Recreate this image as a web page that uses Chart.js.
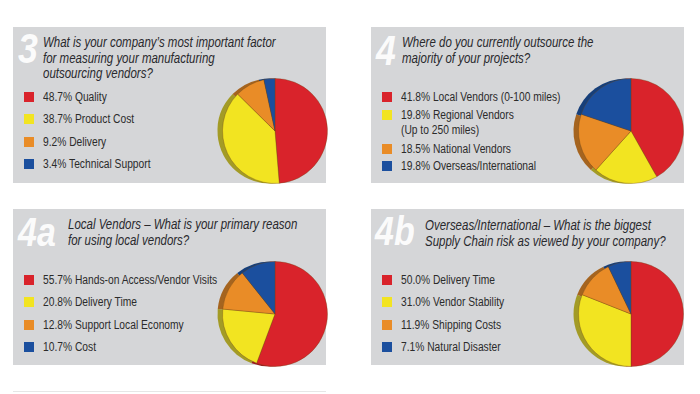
<!DOCTYPE html>
<html>
<head>
<meta charset="utf-8">
<script src="https://cdn.jsdelivr.net/npm/chart.js@4.4.1/dist/chart.umd.min.js"></script>
<style>
    body {
        margin: 0;
        width: 700px;
        height: 394px;
        background: #ffffff;
        position: relative;
        overflow: hidden;
        font-family: "Liberation Sans", Arial, sans-serif;
        color: #333;
    }
    .panel {
        position: absolute;
        background: #d5d6d8;
        width: 313px;
        height: 156px;
    }
    .num {
        position: absolute;
        color: rgba(255, 255, 255, 0.92);
        font-weight: bold;
        font-style: italic;
        line-height: 1;
        transform: scaleX(0.85);
        transform-origin: left top;
    }
    .title {
        position: absolute;
        font-style: italic;
        font-size: 14px;
        line-height: 15.5px;
        color: #29292d;
        white-space: nowrap;
        transform: scaleX(0.82);
        transform-origin: left top;
    }
    .legend {
        position: absolute;
        font-size: 12.5px;
        color: #2b2b2b;
    }
    .legend .item {
        position: absolute;
        white-space: nowrap;
        line-height: 15px;
    }
    .legend .txt {
        display: inline-block;
        transform: scaleX(0.82);
        transform-origin: left top;
    }
    .legend .sw {
        position: absolute;
        left: -19px;
        top: 2px;
        width: 10px;
        height: 10px;
    }
    canvas.pie {
        position: absolute;
    }
    .rule {
        position: absolute;
        left: 13px;
        top: 391px;
        width: 313px;
        height: 1px;
        background: #e6e6e6;
    }
</style>
</head>
<body>
<div class="rule"></div>

<script>
// Survey data
const q3Labels = ['Quality', 'Product Cost', 'Delivery', 'Technical Support'];
const q3Values = [48.7, 38.7, 9.2, 3.4];

const q4Labels = ['Local Vendors (0-100 miles)', 'Regional Vendors\n(Up to 250 miles)', 'National Vendors', 'Overseas/International'];
const q4Values = [41.8, 19.8, 18.5, 19.8];

const q4aLabels = ['Hands-on Access/Vendor Visits', 'Delivery Time', 'Support Local Economy', 'Cost'];
const q4aValues = [55.7, 20.8, 12.8, 10.7];

const q4bLabels = ['Delivery Time', 'Vendor Stability', 'Shipping Costs', 'Natural Disaster'];
const q4bValues = [50.0, 31.0, 11.9, 7.1];

const sliceColors = ['#d9232b', '#f2e421', '#e98c27', '#1b4f9e'];
const sideColors = ['#9a1b20', '#a39b26', '#a5641f', '#163f7a'];

// Draw a darker copy of each slice shifted left, gives the tilted disc look
const rimPlugin = {
    id: 'rim',
    beforeDatasetsDraw(chart) {
        const ctx = chart.ctx;
        const meta = chart.getDatasetMeta(0);
        meta.data.forEach((arc, i) => {
            const p = arc.getProps(['x', 'y', 'startAngle', 'endAngle', 'outerRadius']);
            ctx.save();
            ctx.beginPath();
            ctx.moveTo(p.x - 5, p.y);
            ctx.arc(p.x - 5, p.y, p.outerRadius, p.startAngle, p.endAngle);
            ctx.closePath();
            ctx.fillStyle = sideColors[i];
            ctx.fill();
            ctx.restore();
        });
    }
};

// Build one survey panel
function buildPanel(cfg) {
    const panel = document.createElement('div');
    panel.className = 'panel';
    panel.style.left = cfg.x + 'px';
    panel.style.top = cfg.y + 'px';
    document.body.appendChild(panel);

    const num = document.createElement('div');
    num.className = 'num';
    num.textContent = cfg.num;
    num.style.left = cfg.numPos[0] + 'px';
    num.style.top = cfg.numPos[1] + 'px';
    num.style.fontSize = cfg.numSize + 'px';
    panel.appendChild(num);

    const title = document.createElement('div');
    title.className = 'title';
    title.innerHTML = cfg.title.join('<br>');
    title.style.left = cfg.titlePos[0] + 'px';
    title.style.top = cfg.titlePos[1] + 'px';
    panel.appendChild(title);

    const legend = document.createElement('div');
    legend.className = 'legend';
    legend.style.left = '30px';
    legend.style.top = '0px';
    panel.appendChild(legend);
    cfg.labels.forEach((label, i) => {
        const item = document.createElement('div');
        item.className = 'item';
        item.style.left = '0px';
        item.style.top = cfg.legendTops[i] + 'px';
        item.innerHTML = '<span class="sw" style="background:' + sliceColors[i] + '"></span>' +
            '<span class="txt">' + (cfg.values[i].toFixed(1) + '% ' + label).replace('\n', '<br>') + '</span>';
        legend.appendChild(item);
    });

    const canvas = document.createElement('canvas');
    canvas.className = 'pie';
    canvas.width = 130;
    canvas.height = 120;
    canvas.style.width = '130px';
    canvas.style.height = '120px';
    canvas.style.left = (cfg.pie[0] - 70) + 'px';
    canvas.style.top = (cfg.pie[1] - 60) + 'px';
    document.body.appendChild(canvas);

    new Chart(canvas.getContext('2d'), {
        type: 'pie',
        data: {
            labels: cfg.labels,
            datasets: [{
                data: cfg.values,
                backgroundColor: sliceColors,
                borderColor: 'rgba(110, 70, 20, 0.35)',
                borderWidth: 1,
                hoverOffset: 0
            }]
        },
        options: {
            responsive: false,
            animation: false,
            layout: {
                padding: { left: 12, right: 2, top: 7, bottom: 7 }
            },
            plugins: {
                legend: { display: false },
                tooltip: { enabled: false }
            }
        },
        plugins: [rimPlugin]
    });
}

document.addEventListener('DOMContentLoaded', function() {
    buildPanel({
        x: 13, y: 27, num: '3', numSize: 42, numPos: [5, 1],
        title: ['What is your company\u2019s most important factor', 'for measuring your manufacturing', 'outsourcing vendors?'],
        titlePos: [30, 8],
        labels: q3Labels, values: q3Values,
        legendTops: [63, 85, 108, 130],
        pie: [275, 131]
    });
    buildPanel({
        x: 371, y: 27, num: '4', numSize: 42, numPos: [5, 3],
        title: ['Where do you currently outsource the', 'majority of your projects?'],
        titlePos: [31, 8],
        labels: q4Labels, values: q4Values,
        legendTops: [63, 81, 115, 132],
        pie: [631, 131]
    });
    buildPanel({
        x: 13, y: 209, num: '4a', numSize: 40, numPos: [5, 3],
        title: ['Local Vendors \u2013 What is your primary reason', 'for using local vendors?'],
        titlePos: [55, 8],
        labels: q4aLabels, values: q4aValues,
        legendTops: [64, 86, 109, 131],
        pie: [275, 314]
    });
    buildPanel({
        x: 371, y: 209, num: '4b', numSize: 40, numPos: [4, 2],
        title: ['Overseas/International \u2013 What is the biggest', 'Supply Chain risk as viewed by your company?'],
        titlePos: [54, 9],
        labels: q4bLabels, values: q4bValues,
        legendTops: [64, 86, 109, 131],
        pie: [631, 314]
    });
});
</script>
</body>
</html>
